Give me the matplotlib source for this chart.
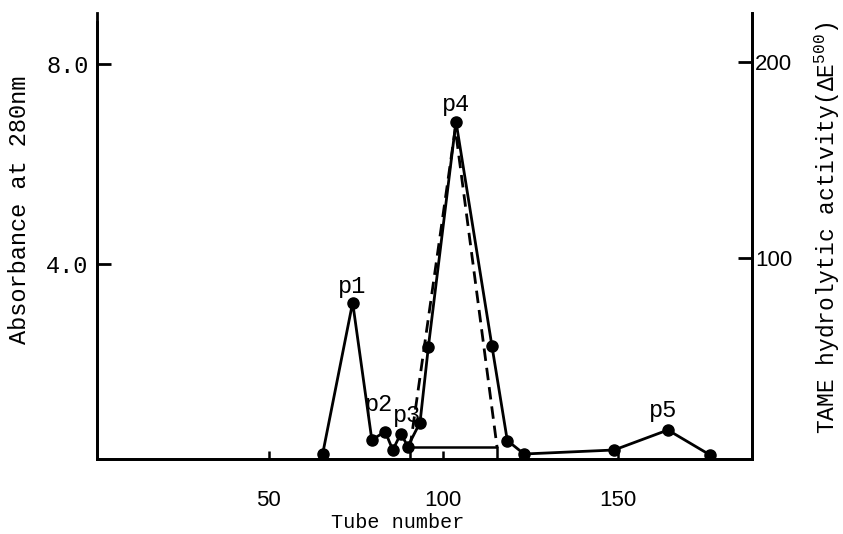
import matplotlib
matplotlib.use("Agg")
import matplotlib.pyplot as plt

# Elution profile: absorbance at 280 nm (left axis)
tube = [65.5, 74.1, 79.6, 83.4, 85.6, 87.9, 89.9, 93.4, 95.8, 103.7, 114.0, 118.4, 123.2, 149.0, 164.4, 176.5]
absorbance = [0.2, 3.23, 0.48, 0.65, 0.28, 0.61, 0.35, 0.83, 2.35, 6.85, 2.36, 0.47, 0.2, 0.28, 0.68, 0.18]

# TAME hydrolytic activity (right axis)
act_tube = [90.5, 103.5, 115.5]
activity = [3, 166, 3]

# Pooled fractions bracket
pool_tube = [90.5, 115.5]

# Peak labels
peak_names = ["p1", "p2", "p3", "p4", "p5"]
peak_x = [73.9, 81.7, 89.7, 103.7, 163.0]
peak_y = [3.56, 1.2, 0.97, 7.2, 1.06]

x_ticks = [50, 100, 150]
left_ticks = [4.0, 8.0]
left_tick_labels = ["4.0", "8.0"]
right_ticks = [100, 200]

mono = "Liberation Mono"
sans = "Liberation Sans"
plt.rcParams["mathtext.fontset"] = "custom"
plt.rcParams["mathtext.rm"] = mono

fig = plt.figure(figsize=(8.43, 5.34), dpi=100)
ax = fig.add_axes([97 / 843, (534 - 459) / 534, (752 - 97) / 843, 446 / 534])
ax2 = ax.twinx()

ax.set_xlim(0.86, 188.5)
ax.set_ylim(0.1, 9.02)
ax2.set_ylim(-2.55, 225.0)

ax.plot(tube, absorbance, color="black", lw=2.0, marker="o", ms=8, zorder=3)
ax2.plot(act_tube, activity, color="black", lw=2.0, ls=(0, (4.5, 2.5)), zorder=3)
ax2.plot([pool_tube[0], pool_tube[0], pool_tube[1], pool_tube[1]],
         [-2.55, 3.5, 3.5, -2.55], color="black", lw=1.8, zorder=3)

for name, px, py in zip(peak_names, peak_x, peak_y):
    ax.text(px, py, name, ha="center", va="center", family=mono, fontsize=17)

for a in (ax, ax2):
    a.spines["top"].set_visible(False)
    for s in a.spines.values():
        s.set_linewidth(2.0)

ax.spines["left"].set_bounds(0.1, 8.84)
ax2.spines["right"].set_bounds(-2.55, 225.0)

ax.set_xticks(x_ticks)
ax.set_xticklabels([str(v) for v in x_ticks], family=sans, fontsize=16)
ax.tick_params(axis="x", direction="in", length=6, width=1.8, pad=22)

ax.set_yticks(left_ticks)
ax.set_yticklabels(left_tick_labels, family=mono, fontsize=17)
ax.tick_params(axis="y", direction="in", length=10, width=2.0, pad=6)

ax2.set_yticks(right_ticks)
ax2.set_yticklabels([str(v) for v in right_ticks], family=sans, fontsize=16)
ax2.tick_params(axis="y", direction="in", length=10, width=2.0, pad=2)

fig.text(398 / 843, 1 - 523 / 534, "Tube number", ha="center", va="center",
         family=mono, fontsize=14.5)
fig.text(20 / 843, 1 - 210 / 534, "Absorbance at 280nm", ha="center", va="center",
         rotation=90, family=mono, fontsize=17)
fig.text(827 / 843, 1 - 228 / 534, "TAME hydrolytic activity(\u0394E$^{500}$)",
         ha="center", va="center", rotation=90, family=mono, fontsize=16.5)

fig.savefig("out.png", dpi=100)
